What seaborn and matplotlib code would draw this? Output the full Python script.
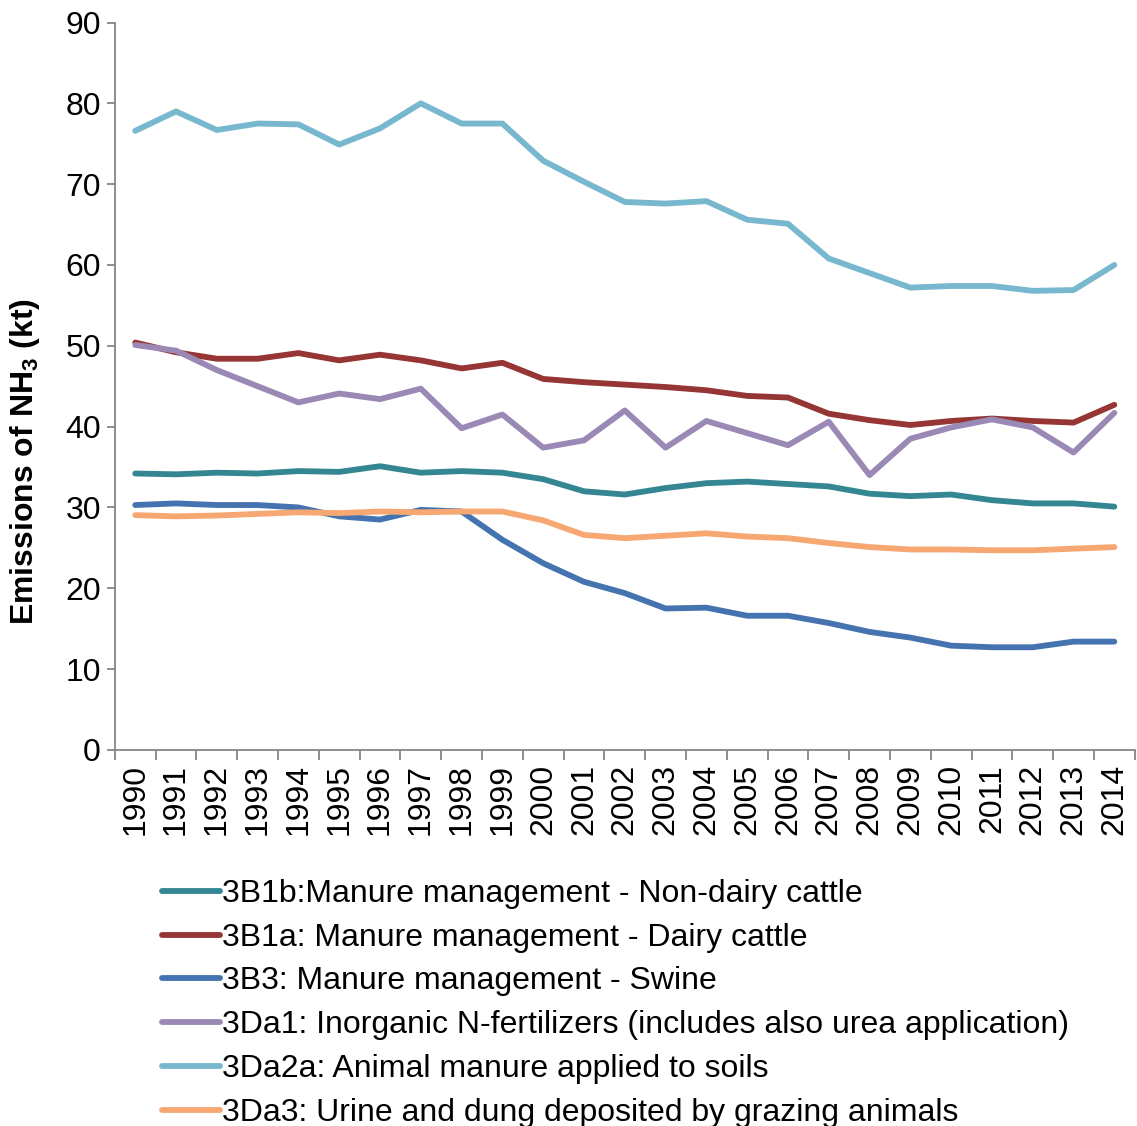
import matplotlib
matplotlib.use("Agg")
import matplotlib.pyplot as plt
import seaborn as sns
import pandas as pd
import numpy as np

years = [str(y) for y in range(1990, 2015)]

s_3B1b = [34.2, 34.1, 34.3, 34.2, 34.5, 34.4, 35.1, 34.3, 34.5, 34.3, 33.5, 32.0,
          31.6, 32.4, 33.0, 33.2, 32.9, 32.6, 31.7, 31.4, 31.6, 30.9, 30.5, 30.5, 30.1]
s_3B1a = [50.4, 49.2, 48.4, 48.4, 49.1, 48.2, 48.9, 48.2, 47.2, 47.9, 45.9, 45.5,
          45.2, 44.9, 44.5, 43.8, 43.6, 41.6, 40.8, 40.2, 40.7, 41.0, 40.7, 40.5, 42.7]
s_3B3 = [30.3, 30.5, 30.3, 30.3, 30.0, 28.9, 28.5, 29.7, 29.5, 26.0, 23.1, 20.8,
         19.4, 17.5, 17.6, 16.6, 16.6, 15.7, 14.6, 13.9, 12.9, 12.7, 12.7, 13.4, 13.4]
s_3Da1 = [50.1, 49.4, 47.0, 45.0, 43.0, 44.1, 43.4, 44.7, 39.8, 41.5, 37.4, 38.3,
          42.0, 37.4, 40.7, 39.2, 37.7, 40.6, 34.0, 38.5, 39.9, 40.9, 39.9, 36.8, 41.7]
s_3Da2a = [76.6, 79.0, 76.7, 77.5, 77.4, 74.9, 76.9, 80.0, 77.5, 77.5, 72.9, 70.3,
           67.8, 67.6, 67.9, 65.6, 65.1, 60.8, 59.0, 57.2, 57.4, 57.4, 56.8, 56.9, 60.0]
s_3Da3 = [29.05, 28.9, 29.0, 29.2, 29.4, 29.3, 29.5, 29.4, 29.5, 29.5, 28.4, 26.6,
          26.2, 26.5, 26.8, 26.4, 26.2, 25.6, 25.1, 24.8, 24.8, 24.7, 24.7, 24.9, 25.1]

series_names = [
    "3B1b:Manure management - Non-dairy cattle",
    "3B1a: Manure management - Dairy cattle",
    "3B3: Manure management - Swine",
    "3Da1: Inorganic N-fertilizers (includes also urea application)",
    "3Da2a: Animal manure applied to soils",
    "3Da3: Urine and dung deposited by grazing animals",
]
series_values = [s_3B1b, s_3B1a, s_3B3, s_3Da1, s_3Da2a, s_3Da3]
colors = ["#348693", "#963634", "#4573B0", "#9A88B5", "#78B8CE", "#F7A872"]

rows = []
for name, vals in zip(series_names, series_values):
    for i, (yr, v) in enumerate(zip(years, vals)):
        rows.append({"pos": i, "year": yr, "value": v, "series": name})
df = pd.DataFrame(rows)

sns.set_theme(style="white")
plt.rcParams["font.family"] = ["Liberation Sans", "DejaVu Sans"]
plt.rcParams["mathtext.fontset"] = "custom"
plt.rcParams["mathtext.rm"] = "Liberation Sans"
plt.rcParams["mathtext.bf"] = "Liberation Sans:bold"
plt.rcParams["text.color"] = "black"
plt.rcParams["axes.labelcolor"] = "black"
plt.rcParams["xtick.color"] = "black"
plt.rcParams["ytick.color"] = "black"

FS = 23
fig = plt.figure(figsize=(11.37, 11.26), dpi=100)
ax = fig.add_axes([0.101, 0.334, 0.897, 0.646])

sns.lineplot(data=df, x="pos", y="value", hue="series", hue_order=series_names,
             palette=colors, linewidth=4.2, ax=ax, legend=True, sort=False)

axis_col = "#868686"
ax.set_xlim(-0.5, len(years) - 0.5)
ax.set_ylim(0, 90)
ax.set_yticks(np.arange(0, 91, 10))
ax.tick_params(axis="y", labelsize=FS, length=6, width=1.3, color=axis_col,
               labelcolor="black", direction="out", left=True, pad=4)
ax.set_xticks(np.arange(-0.5, len(years), 1.0))
ax.set_xticklabels([])
ax.tick_params(axis="x", which="major", length=7, width=1.3, color=axis_col,
               direction="out", bottom=True)
ax.set_xticks(np.arange(len(years)), minor=True)
ax.set_xticklabels(years, minor=True, rotation=90, fontsize=FS)
ax.tick_params(axis="x", which="minor", length=0, pad=10, labelcolor="black")

for side in ["top", "right"]:
    ax.spines[side].set_visible(False)
for side in ["left", "bottom"]:
    ax.spines[side].set_color(axis_col)
    ax.spines[side].set_linewidth(1.3)

ax.set_xlabel("")
ax.set_ylabel(r"Emissions of NH$_{\mathbf{3}}$ (kt)", fontsize=FS,
              fontweight="bold")
ax.yaxis.set_label_coords(-0.071, 0.396)

handles, labels = ax.get_legend_handles_labels()
for h in handles:
    h.set_linewidth(4.2)
ax.legend(handles, labels, loc="upper left", bbox_to_anchor=(0.1425, 1 - 879 / 1126),
          bbox_transform=fig.transFigure, frameon=False, fontsize=FS,
          handlelength=1.82, handletextpad=0.05, labelspacing=0.43,
          borderpad=0, borderaxespad=0)

fig.savefig("out.png", dpi=100)
